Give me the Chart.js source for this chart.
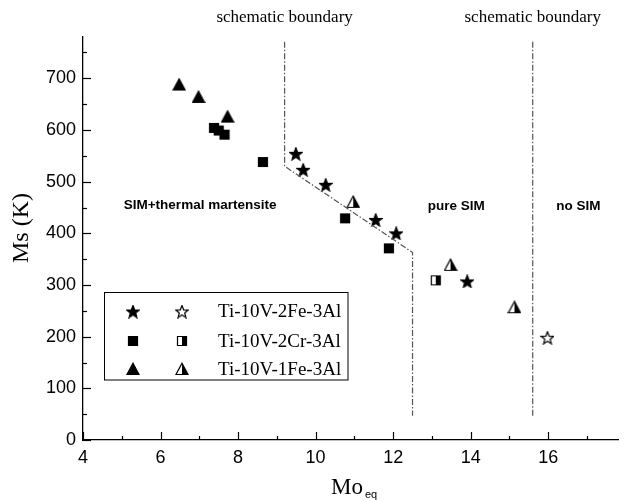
<!DOCTYPE html>
<html>
<head>
<meta charset="utf-8">
<script src="https://cdn.jsdelivr.net/npm/chart.js@4.4.1/dist/chart.umd.min.js"></script>
<style>
  html, body { margin: 0; padding: 0; background: #fff; }
</style>
</head>
<body>
<canvas id="chart" width="626" height="501"></canvas>
<script>
// axis ticks
const xTicks = [4, 6, 8, 10, 12, 14, 16];
const yTicks = [0, 100, 200, 300, 400, 500, 600, 700];

// Ti-10V-2Fe-3Al
const feStarX = [9.49, 9.68, 10.26, 11.55, 12.08, 13.91];
const feStarY = [554, 523, 494, 426, 400, 307];
const feHollowX = [15.98];
const feHollowY = [198];

// Ti-10V-2Cr-3Al
const crSquareX = [7.38, 7.50, 7.65, 8.64, 10.76, 11.89];
const crSquareY = [604, 599, 591, 538, 429, 371];
const crHalfX = [13.10];
const crHalfY = [309];

// Ti-10V-1Fe-3Al
const fe1TriX = [6.48, 6.98, 7.73];
const fe1TriY = [688, 664, 626];
const fe1HalfX = [10.97, 13.48, 15.13];
const fe1HalfY = [461, 339, 257];

// schematic boundaries
const bound1X = [9.2, 9.2, 12.5, 12.5];
const bound1Y = [771, 530, 363, 47];
const bound2X = [15.6, 15.6];
const bound2Y = [771, 47];

const seriesNames = ['Ti-10V-2Fe-3Al', 'Ti-10V-2Cr-3Al', 'Ti-10V-1Fe-3Al'];
const regionNames = ['SIM+thermal martensite', 'pure SIM', 'no SIM'];
const boundaryNote = 'schematic boundary';

const pts = (xs, ys) => xs.map((x, i) => ({ x: x, y: ys[i] }));

// marker images (filled / hollow / half filled)
function makeMarker(shape, mode) {
  const c = document.createElement('canvas');
  c.width = 14; c.height = 14;
  const g = c.getContext('2d');
  const path = () => {
    g.beginPath();
    if (shape === 'star') {
      for (let i = 0; i < 10; i++) {
        const r = i % 2 === 0 ? 6.6 : 2.8;
        const a = -Math.PI / 2 + i * Math.PI / 5;
        const px = 7 + r * Math.cos(a), py = 7.6 + r * Math.sin(a);
        if (i === 0) g.moveTo(px, py); else g.lineTo(px, py);
      }
      g.closePath();
    } else if (shape === 'tri') {
      g.moveTo(7, 1.2); g.lineTo(13, 12.5); g.lineTo(1, 12.5); g.closePath();
    } else {
      g.rect(2.5, 2.5, 9, 9);
    }
  };
  g.lineWidth = 1.2;
  g.strokeStyle = '#000';
  if (mode === 'full') {
    path(); g.fillStyle = '#000'; g.fill(); g.stroke();
  } else if (mode === 'hollow') {
    path(); g.fillStyle = '#fff'; g.fill(); g.stroke();
  } else {
    path(); g.fillStyle = '#fff'; g.fill();
    g.save(); path(); g.clip();
    g.fillStyle = '#000'; g.fillRect(7, 0, 7, 14);
    g.restore();
    path(); g.stroke();
  }
  return c;
}

const mk = {
  starFull: makeMarker('star', 'full'),
  starHollow: makeMarker('star', 'hollow'),
  sqFull: makeMarker('sq', 'full'),
  sqHalf: makeMarker('sq', 'half'),
  triFull: makeMarker('tri', 'full'),
  triHalf: makeMarker('tri', 'half')
};

const scatterSet = (data, style) => ({
  type: 'scatter', data: data, pointStyle: style, pointRadius: 7, showLine: false
});
const boundSet = (data) => ({
  type: 'line', data: data, borderColor: '#555', borderWidth: 1.2,
  borderDash: [6, 2, 1.5, 2], pointRadius: 0, fill: false, tension: 0
});

const decor = {
  id: 'decor',
  afterDraw(chart) {
    const { ctx, chartArea: ca, scales: { x, y } } = chart;
    ctx.save();
    // inward ticks
    ctx.strokeStyle = '#000';
    ctx.lineWidth = 1.2;
    yTicks.forEach((v, i) => {
      const py = Math.round(y.getPixelForValue(v)) + 0.5;
      ctx.beginPath(); ctx.moveTo(ca.left, py); ctx.lineTo(ca.left + 8, py); ctx.stroke();
      const half = v + (i < yTicks.length - 1 ? (yTicks[i + 1] - v) / 2 : 50);
      const pm = Math.round(y.getPixelForValue(half)) + 0.5;
      ctx.beginPath(); ctx.moveTo(ca.left, pm); ctx.lineTo(ca.left + 4, pm); ctx.stroke();
    });
    xTicks.forEach((v, i) => {
      const px = Math.round(x.getPixelForValue(v)) + 0.5;
      ctx.beginPath(); ctx.moveTo(px, ca.bottom); ctx.lineTo(px, ca.bottom - 8); ctx.stroke();
      const half = v + (i < xTicks.length - 1 ? (xTicks[i + 1] - v) / 2 : 1);
      const pm = Math.round(x.getPixelForValue(half)) + 0.5;
      ctx.beginPath(); ctx.moveTo(pm, ca.bottom); ctx.lineTo(pm, ca.bottom - 4); ctx.stroke();
    });

    // boundary notes
    ctx.fillStyle = '#000';
    ctx.font = '17px "Liberation Serif", "Times New Roman", serif';
    ctx.textAlign = 'center';
    ctx.textBaseline = 'middle';
    ctx.fillText(boundaryNote, x.getPixelForValue(bound1X[0]), 18);
    ctx.fillText(boundaryNote, x.getPixelForValue(bound2X[0]), 18);

    // region labels
    ctx.font = 'bold 13.5px "Liberation Sans", Arial, sans-serif';
    ctx.fillText(regionNames[0], x.getPixelForValue(7.02), y.getPixelForValue(455));
    ctx.fillText(regionNames[1], x.getPixelForValue(13.63), y.getPixelForValue(452));
    ctx.fillText(regionNames[2], x.getPixelForValue(16.78), y.getPixelForValue(452));

    // y title
    ctx.save();
    ctx.translate(22, 228);
    ctx.rotate(-Math.PI / 2);
    ctx.font = '24px "Liberation Serif", "Times New Roman", serif';
    ctx.fillText('Ms (K)', 0, 0);
    ctx.restore();

    // x title Mo_eq
    ctx.textAlign = 'left';
    ctx.textBaseline = 'alphabetic';
    ctx.font = '23px "Liberation Serif", "Times New Roman", serif';
    ctx.fillText('Mo', 331, 494);
    ctx.font = '11px "Liberation Sans", Arial, sans-serif';
    ctx.fillText('eq', 365, 498);

    // legend
    const lx = 104.5, ly = 292.5;
    ctx.lineWidth = 1;
    ctx.strokeRect(lx, ly, 243.5, 87.5);
    const rows = [[mk.starFull, mk.starHollow], [mk.sqFull, mk.sqHalf], [mk.triFull, mk.triHalf]];
    const rowY = [311.5, 341, 369];
    ctx.font = '19px "Liberation Serif", "Times New Roman", serif';
    ctx.textBaseline = 'middle';
    rows.forEach((r, i) => {
      ctx.drawImage(r[0], 133 - 7, rowY[i] - 7);
      ctx.drawImage(r[1], 182 - 7, rowY[i] - 7);
      ctx.fillText(seriesNames[i], 218, rowY[i] + 1);
    });
    ctx.restore();
  }
};

Chart.defaults.font.family = '"Liberation Sans", Arial, sans-serif';
Chart.defaults.color = '#000';

new Chart(document.getElementById('chart'), {
  type: 'scatter',
  data: {
    datasets: [
      boundSet(pts(bound1X, bound1Y)),
      boundSet(pts(bound2X, bound2Y)),
      scatterSet(pts(feStarX, feStarY), mk.starFull),
      scatterSet(pts(feHollowX, feHollowY), mk.starHollow),
      scatterSet(pts(crSquareX, crSquareY), mk.sqFull),
      scatterSet(pts(crHalfX, crHalfY), mk.sqHalf),
      scatterSet(pts(fe1TriX, fe1TriY), mk.triFull),
      scatterSet(pts(fe1HalfX, fe1HalfY), mk.triHalf)
    ]
  },
  options: {
    responsive: false,
    animation: false,
    layout: { padding: { top: 37, right: 0, left: 0, bottom: 0 } },
    plugins: { legend: { display: false }, tooltip: { enabled: false } },
    scales: {
      x: {
        type: 'linear', min: 4, max: 17.8,
        grid: { display: false, drawTicks: false, tickLength: 0 },
        border: { display: true, color: '#000', width: 1.3 },
        ticks: { stepSize: 2, includeBounds: false, padding: 7, maxRotation: 0, font: { size: 18 } },
        afterBuildTicks: s => { s.ticks = xTicks.map(v => ({ value: v })); },
        afterFit: s => { s.height = 61; }
      },
      y: {
        type: 'linear', min: 0, max: 780,
        grid: { display: false, drawTicks: false, tickLength: 0 },
        border: { display: true, color: '#000', width: 1.3 },
        ticks: { stepSize: 100, includeBounds: false, padding: 7, font: { size: 18 } },
        afterBuildTicks: s => { s.ticks = yTicks.map(v => ({ value: v })); },
        afterFit: s => { s.width = 83; }
      }
    }
  },
  plugins: [decor]
});
</script>
</body>
</html>
